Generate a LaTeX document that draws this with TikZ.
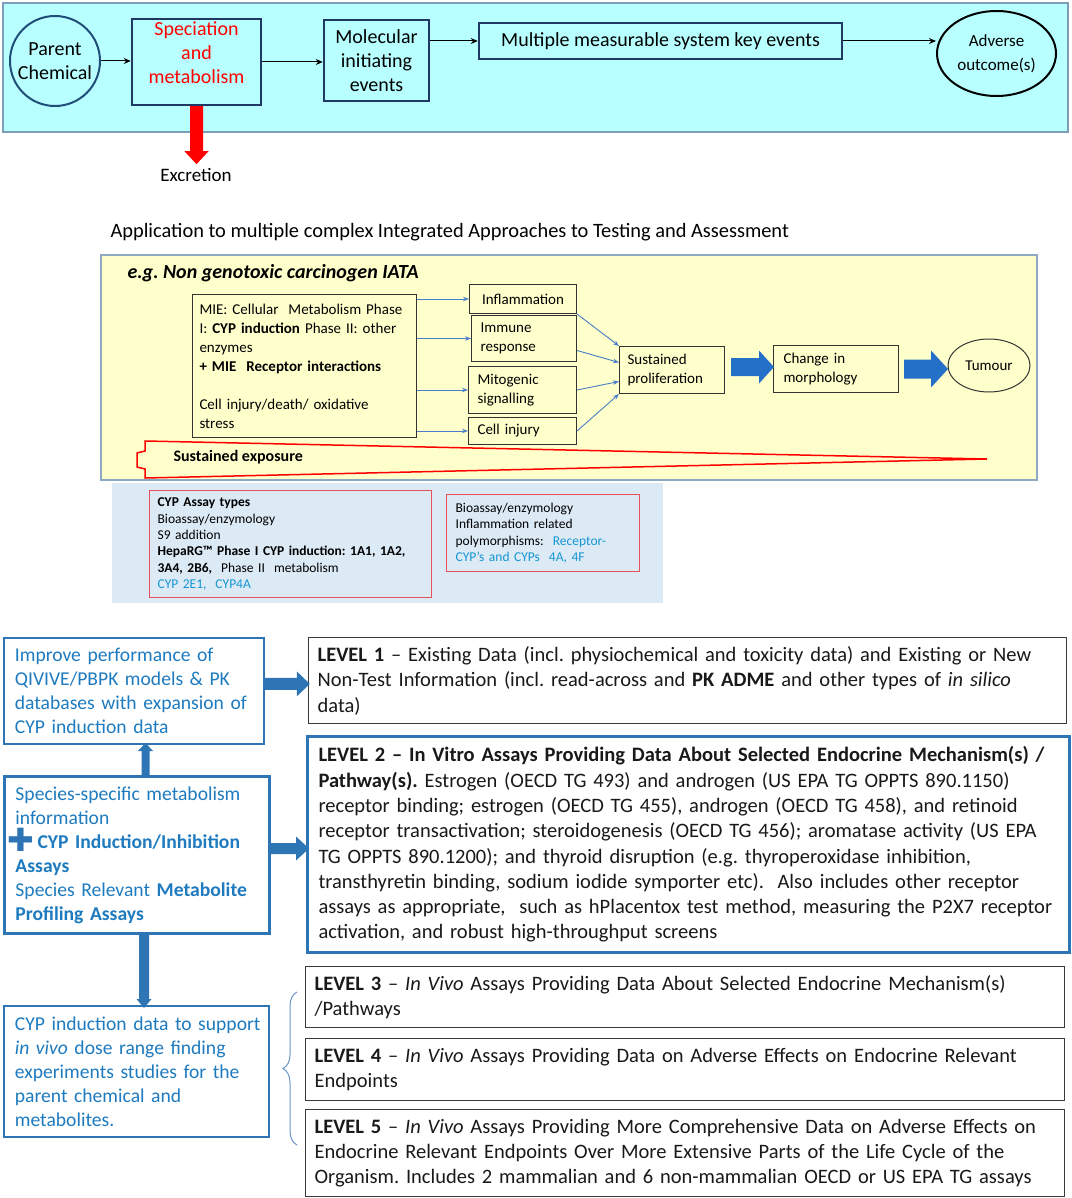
\documentclass[tikz,border=0pt]{standalone}
\usepackage{fontspec}
\setmainfont{Carlito}
\newfontfamily\lvfont[WordSpace=0.8]{Carlito}
\newfontfamily\symfont{DejaVu Sans}
\usetikzlibrary{arrows.meta,shapes.geometric,decorations.pathreplacing,calc}
\definecolor{cyanbg}{HTML}{B8FFFF}
\definecolor{bandc}{HTML}{7F9DB9}
\definecolor{navyc}{HTML}{1F3864}
\definecolor{navyb}{HTML}{1F4E79}
\definecolor{yel}{HTML}{FFFFCC}
\definecolor{yelb}{HTML}{8EA9C1}
\definecolor{thinblue}{HTML}{4A7EC8}
\definecolor{iblue}{HTML}{2470C8}
\definecolor{paleblue}{HTML}{DCEAF6}
\definecolor{redb}{HTML}{E8505A}
\definecolor{txtblue}{HTML}{1E7BBF}
\definecolor{cypblue}{HTML}{1496D2}
\definecolor{lvblue}{HTML}{2E75B6}
\definecolor{lvgray}{HTML}{3A3A3A}
\definecolor{boxgray}{HTML}{333333}
\definecolor{braceblue}{HTML}{6A96C8}
\newcommand{\fsz}[2]{\fontsize{#1pt}{#2pt}\selectfont}
% block arrow: color, start, angle, length, half shaft, half head, head length
\newcommand{\blockarr}[7]{%
  \fill[#1, shift={#2}, rotate=#3] (0,-#5) -- ({#4-#7},-#5) -- ({#4-#7},-#6) -- (#4,0)
    -- ({#4-#7},#6) -- ({#4-#7},#5) -- (0,#5) -- cycle;}
\tikzset{
  tbox/.style={draw=navyc, line width=2.5, align=center, inner sep=0pt, font=\fsz{20}{24}},
  tarr/.style={-{Stealth[length=7pt,width=6pt]}, line width=1, black},
  ibox/.style={draw=boxgray, line width=1, inner ysep=0pt, align=left, anchor=north west, font=\fsz{15}{19}},
  iarr/.style={-{Stealth[length=6pt,width=4.5pt]}, line width=0.9, thinblue},
  rbox/.style={draw=redb, line width=1.2, inner ysep=0pt, align=left, anchor=north west, font=\fsz{13.5}{16.4}},
  bbox/.style={draw=lvblue, line width=1.8, text=txtblue, inner ysep=0pt, inner xsep=11pt, align=left, anchor=north west, font=\fsz{19.6}{24}},
  lvbox/.style={draw=lvgray, line width=1.3, inner ysep=0pt, inner xsep=9pt, align=left, anchor=north west, font=\lvfont\fsz{20.5}{25.3}, text=black!90},
}
\frenchspacing
\begin{document}
\begin{tikzpicture}[x=1pt,y=-1pt]
\useasboundingbox (0,0) rectangle (1071,1198);
\fill[white] (0,0) rectangle (1071,1198);
% ---------- top band ----------
\draw[draw=bandc, fill=cyanbg, line width=1.2] (3,3) rectangle (1068,132);
\node[circle, draw=navyb, line width=2, minimum size=90, inner sep=0pt, align=center, font=\fsz{20}{24}] (parent) at (55,61) {Parent\\Chemical};
\node[tbox, minimum width=129, minimum height=86, text=red] (spec) at (196.5,62) {Speciation\\and\\metabolism\\[-6pt]\mbox{}};
\node[tbox, minimum width=105, minimum height=81] (mol) at (376.5,60.5) {Molecular\\initiating\\events};
\node[tbox, minimum width=363, minimum height=36] (multi) at (660.5,41) {Multiple measurable system key events};
\node[ellipse, draw=black, line width=2, minimum width=119, minimum height=85, inner sep=0pt, align=center, font=\fsz{17}{24}] (adv) at (996.5,53.5) {Adverse\\outcome(s)};
\draw[tarr] (parent.east) -- (spec.west |- parent.east);
\draw[tarr] (spec.east) -- (mol.west |- spec.east);
\draw[tarr] (mol.east |- multi.west) -- (multi.west);
\draw[tarr] (multi.east) -- (multi.east -| adv.west);
\blockarr{red}{(spec.south)}{-90}{58}{6.5}{12}{13}
\node[font=\fsz{19}{23}] (excr) at (196,175) {Excretion};
% ---------- title ----------
\node[anchor=west, font=\fsz{20.4}{24}] (title) at (107,232) {Application to multiple complex Integrated Approaches to Testing and Assessment};
% ---------- IATA panel ----------
\draw[draw=yelb, fill=yel, line width=1.2] (101,255) rectangle (1037,480);
\node[anchor=west, font=\fsz{20}{24}\bfseries\itshape] (hdr) at (124,273) {e.g. Non genotoxic carcinogen IATA};
\node[ibox, text width=210, inner xsep=7, minimum height=143] (mie) at (192,294)
 {MIE: Cellular\ \ Metabolism Phase\\ I: \textbf{CYP induction} Phase II: other\\ enzymes\\ \textbf{+ MIE\ \ Receptor interactions}\\[19pt] Cell injury/death/ oxidative\\ stress};
\node[ibox, align=center, inner xsep=0pt, minimum width=107, minimum height=29] (infl) at (469,284) {Inflammation};
\node[ibox, text width=87, inner xsep=9, minimum height=46] (imm) at (471,315) {Immune\\ response};
\node[ibox, text width=90, inner xsep=9, minimum height=47] (mit) at (468,366) {Mitogenic\\ signalling};
\node[ibox, text width=90, inner xsep=9, minimum height=27] (ci) at (468,417) {Cell injury};
\node[ibox, text width=89, inner xsep=8, minimum height=47] (sp) at (619,346) {Sustained\\ proliferation};
\node[ibox, text width=105, inner xsep=10, minimum height=47] (cm) at (773,345) {Change in\\ morphology};
\node[ellipse, draw=boxgray, line width=1, minimum width=82, minimum height=53, inner sep=0pt, font=\fsz{15}{19}] (tum) at (989,365.5) {Tumour};
\draw[iarr] (mie.east |- infl.west) -- (infl.west);
\draw[iarr] (mie.east |- imm.west) -- (imm.west);
\draw[iarr] (mie.east |- mit.west) -- (mit.west);
\draw[iarr] (mie.east |- ci.west) -- (ci.west);
\draw[iarr] (infl.south east) -- (sp.north west);
\draw[iarr] ($(imm.east)+(0,12)$) -- ($(sp.west)+(0,-7.5)$);
\draw[iarr] (mit.east) -- ($(sp.west)+(0,11.5)$);
\draw[iarr] (ci.east) -- (sp.south west);
\blockarr{iblue}{($(sp.east)+(6,-3)$)}{0}{43}{9}{16.5}{15}
\blockarr{iblue}{($(cm.east)+(5,0)$)}{0}{44}{9.5}{18.5}{17}
\draw[red, line width=1.5, line join=miter] (145,441) -- (987,459) -- (145,478) -- (145,469) -- (137,467) -- (137,453) -- (145,451) -- cycle;
\node[anchor=west, font=\fsz{16}{19}\bfseries] (sexp) at (170,457) {Sustained exposure};
% ---------- CYP panel ----------
\fill[paleblue] (112,483) rectangle (663,603);
\node[rbox, text width=266, inner xsep=8, minimum height=107] (cypl) at (149,490)
 {\textbf{CYP Assay types}\\ Bioassay/enzymology\\ S9 addition\\ \textbf{HepaRG™ Phase I CYP induction: 1A1, 1A2,}\\ \textbf{3A4, 2B6,}\ \ Phase II\ \ metabolism\\ {\color{cypblue}CYP 2E1,\ \ CYP4A}};
\node[rbox, text width=175, inner xsep=9, minimum height=77] (cypr) at (446,494)
 {Bioassay/enzymology\\ Inflammation related\\ polymorphisms:\ \ {\color{cypblue}Receptor-}\\ {\color{cypblue}CYP’s and CYPs\ \ 4A, 4F}};
% ---------- bottom left ----------
\node[bbox, text width=238, minimum height=106] (imp) at (3,637)
 {Improve performance of\\ QIVIVE/PBPK models \& PK\\ \mbox{databases with expansion of}\\ CYP induction data};
\node[bbox, line width=3, text width=243, minimum height=157] (spc) at (3,775)
 {Species-specific metabolism\\ information\\ \hspace*{-8pt}\raisebox{-3pt}[0pt][0pt]{\symfont\fsz{32}{32}\color{lvblue}✚}\,\textbf{CYP Induction/Inhibition}\\ \textbf{Assays}\\ \mbox{Species Relevant \textbf{Metabolite}}\\ \textbf{Profiling Assays}};
\node[bbox, text width=243, minimum height=131] (cyp) at (3,1005)
 {\mbox{CYP induction data to support}\\ \textit{in vivo} dose range finding\\ experiments studies for the\\ parent chemical and\\ metabolites.};
% ---------- levels ----------
\node[lvbox, text width=740, minimum height=86] (l1) at (308,637)
 {\textbf{LEVEL 1} – Existing Data (incl. physiochemical and toxicity data) and Existing or New\\ Non-Test Information (incl. read-across and \textbf{PK ADME} and other types of \textit{in silico}\\ data)};
\node[lvbox, draw=lvblue, line width=3, inner xsep=11pt, text width=740, minimum height=216] (l2) at (306,735)
 {\textbf{LEVEL 2 – In Vitro Assays Providing Data About Selected Endocrine Mechanism(s) /}\\ \textbf{Pathway(s).} Estrogen (OECD TG 493) and androgen (US EPA TG OPPTS 890.1150)\\ receptor binding; estrogen (OECD TG 455), androgen (OECD TG 458), and retinoid\\ receptor transactivation; steroidogenesis (OECD TG 456); aromatase activity (US EPA\\ TG OPPTS 890.1200); and thyroid disruption (e.g. thyroperoxidase inhibition,\\ transthyretin binding, sodium iodide symporter etc).\ \ Also includes other receptor\\ assays as appropriate,\ \ such as hPlacentox test method, measuring the P2X7 receptor\\ activation, and robust high-throughput screens};
\node[lvbox, text width=741, minimum height=61] (l3) at (305,966)
 {\textbf{LEVEL 3} – \textit{In Vivo} Assays Providing Data About Selected Endocrine Mechanism(s)\\ /Pathways};
\node[lvbox, text width=741, minimum height=62] (l4) at (305,1038)
 {\textbf{LEVEL 4} – \textit{In Vivo} Assays Providing Data on Adverse Effects on Endocrine Relevant\\ Endpoints};
\node[lvbox, text width=741, minimum height=87] (l5) at (305,1109)
 {\textbf{LEVEL 5} – \textit{In Vivo} Assays Providing More Comprehensive Data on Adverse Effects on\\ Endocrine Relevant Endpoints Over More Extensive Parts of the Life Cycle of the\\ Organism. Includes 2 mammalian and 6 non-mammalian OECD or US EPA TG assays};
% ---------- bottom arrows ----------
\blockarr{lvblue}{($(imp.east)+(0,-7)$)}{0}{45}{6}{12.5}{13}
\blockarr{lvblue}{($(spc.north)+(8.5,0)$)}{90}{32}{4}{7.5}{8}
\blockarr{lvblue}{($(spc.east)+(0,-6.5)$)}{0}{38}{5.5}{12}{13}
\blockarr{lvblue}{($(spc.south)+(7,0)$)}{-90}{73}{5}{7.5}{9}
\draw[braceblue, line width=1, decorate, decoration={brace, amplitude=14pt}] (297,1145) -- (297,992);
\end{tikzpicture}
\end{document}
